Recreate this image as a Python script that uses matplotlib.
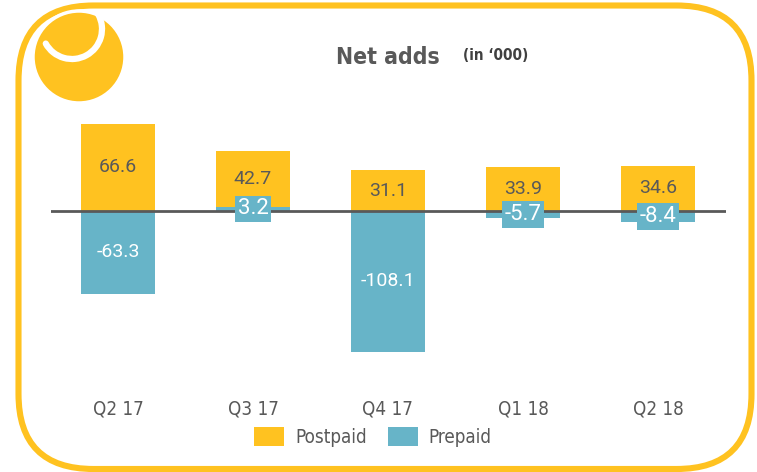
import numpy as np
import matplotlib
matplotlib.use('Agg')
import matplotlib.pyplot as plt
from matplotlib.patches import FancyBboxPatch, Circle, Arc, Patch
from matplotlib.font_manager import FontProperties

# data
quarters = ['Q2 17', 'Q3 17', 'Q4 17', 'Q1 18', 'Q2 18']
postpaid = [66.6, 42.7, 31.1, 33.9, 34.6]
prepaid = [-63.3, 3.2, -108.1, -5.7, -8.4]

yellow = '#FFC220'
teal = '#67B4C8'
grey = '#595959'

W, H = 757, 472
fig = plt.figure(figsize=(W / 100, H / 100), dpi=100)


def cond(size, weight='normal'):
    return FontProperties(family='DejaVu Sans', stretch='condensed', size=size, weight=weight)


# background layer in pixel coords (y up)
bg = fig.add_axes([0, 0, 1, 1])
bg.set_xlim(0, W)
bg.set_ylim(0, H)
bg.axis('off')
frame = FancyBboxPatch((18.5 + 75, 3 + 75), 751.5 - 18.5 - 150, 469 - 5.5 - 150,
                       boxstyle='round,pad=75', fc='none', ec=yellow, lw=4.4)
bg.add_patch(frame)
bg.add_patch(Circle((79, H - 57), 46, fc=yellow, ec='white', lw=2.5, zorder=3))
bg.add_patch(Arc((72, H - 29), 60, 60, theta1=209, theta2=29, color='white',
                 lw=4.5, capstyle='round', zorder=4))

fig.text(336 / W, 1 - 57 / H, 'Net adds', fontproperties=cond(16.5, 'bold'),
         color=grey, va='center', ha='left')
fig.text(463 / W, 1 - 55 / H, '(in \u2018000)', fontproperties=cond(11, 'bold'),
         color='#404040', va='center', ha='left')

# main chart
ax = fig.add_axes([50.5 / W, 111 / H, 675 / W, 248 / H])
x = np.arange(len(quarters))
bw = 0.555
pos_base = [max(p, 0) for p in prepaid]
ax.bar(x, prepaid, bw, color=teal, zorder=2)
ax.bar(x, postpaid, bw, bottom=pos_base, color=yellow, zorder=2)
ax.axhline(0, color=grey, lw=2, zorder=3)

for i in range(len(quarters)):
    ax.text(x[i], pos_base[i] + postpaid[i] / 2, f'{postpaid[i]:.1f}',
            ha='center', va='center', fontsize=14, family='Roboto', color=grey, zorder=5)
    if abs(prepaid[i]) > 20:
        ax.text(x[i], prepaid[i] / 2, f'{prepaid[i]:.1f}', ha='center', va='center',
                fontsize=14, family='Roboto', color='white', zorder=5)
    else:
        ax.text(x[i], prepaid[i] / 2, f'{prepaid[i]:.1f}', ha='center', va='center',
                fontsize=16, family='Roboto', color='white', zorder=5,
                bbox=dict(boxstyle='square,pad=0.12', fc=teal, ec='none'))

ax.set_xlim(-0.5, 4.5)
ax.set_ylim(-115, 75)
ax.set_xticks(x)
ax.set_xticklabels(quarters, fontproperties=cond(13.5), color=grey)
ax.tick_params(axis='x', length=0, pad=28)
ax.set_yticks([])
for s in ax.spines.values():
    s.set_visible(False)
ax.patch.set_alpha(0)

handles = [Patch(fc=yellow, label='Postpaid'), Patch(fc=teal, label='Prepaid')]
leg = fig.legend(handles=handles, loc='center', bbox_to_anchor=(373 / W, 1 - 437 / H),
                 ncol=2, frameon=False, handlelength=1.6, handleheight=1.2,
                 handletextpad=0.6, columnspacing=1.1, prop=cond(13.5))
for t in leg.get_texts():
    t.set_color(grey)

fig.savefig('out.png', dpi=100)
